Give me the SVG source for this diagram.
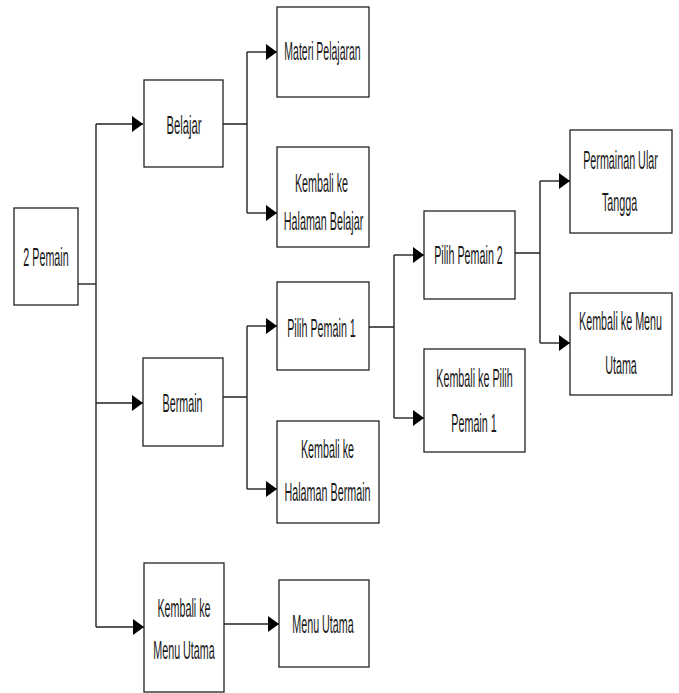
<svg xmlns="http://www.w3.org/2000/svg" width="679" height="693" viewBox="0 0 679 693">
<style>
.box{fill:#fff;stroke:#222;stroke-width:1.3}
.t{font-family:"Liberation Sans",Arial,sans-serif;font-size:25px;fill:#1a1a1a;text-anchor:middle}
.c{fill:none;stroke:#222;stroke-width:1.4}
</style>
<defs>
<marker id="arr" markerUnits="userSpaceOnUse" markerWidth="11" markerHeight="16" refX="11" refY="8" orient="auto">
<path d="M0,0 L11,8 L0,16 Z" fill="#000"/>
</marker>
</defs>
<rect width="679" height="693" fill="#fff"/>
<g id="connectors">
<path class="c" d="M78,284 H96"/>
<path class="c" d="M96,124 V627"/>
<path class="c" d="M96,124 H143" marker-end="url(#arr)"/>
<path class="c" d="M96,403 H143" marker-end="url(#arr)"/>
<path class="c" d="M96,627 H144" marker-end="url(#arr)"/>
<path class="c" d="M223,124 H247 M247,52 V213"/>
<path class="c" d="M247,52 H277" marker-end="url(#arr)"/>
<path class="c" d="M247,213 H277" marker-end="url(#arr)"/>
<path class="c" d="M223,397 H247 M247,326 V489"/>
<path class="c" d="M247,326 H277" marker-end="url(#arr)"/>
<path class="c" d="M247,489 H277" marker-end="url(#arr)"/>
<path class="c" d="M224,624 H279" marker-end="url(#arr)"/>
<path class="c" d="M369,327 H394 M394,255 V418"/>
<path class="c" d="M394,255 H424" marker-end="url(#arr)"/>
<path class="c" d="M394,418 H424" marker-end="url(#arr)"/>
<path class="c" d="M515,253 H540 M540,181 V343"/>
<path class="c" d="M540,181 H570" marker-end="url(#arr)"/>
<path class="c" d="M540,343 H570" marker-end="url(#arr)"/>
</g>
<g id="n-2pemain"><rect class="box" x="14" y="208" width="64" height="97"/><text class="t" transform="translate(46,266) scale(0.43,1)">2 Pemain</text></g>
<g id="n-belajar"><rect class="box" x="144" y="80" width="79" height="87"/><text class="t" transform="translate(184,134) scale(0.45,1)">Belajar</text></g>
<g id="n-materi"><rect class="box" x="277" y="7" width="92" height="90"/><text class="t" transform="translate(322.5,60) scale(0.42,1)">Materi Pelajaran</text></g>
<g id="n-kembali-belajar"><rect class="box" x="277" y="147" width="92" height="100"/><text class="t" transform="translate(321.5,192) scale(0.43,1)">Kembali ke</text><text class="t" transform="translate(323.5,230) scale(0.43,1)">Halaman Belajar</text></g>
<g id="n-bermain"><rect class="box" x="143" y="358" width="80" height="88"/><text class="t" transform="translate(182.5,412) scale(0.43,1)">Bermain</text></g>
<g id="n-pilih1"><rect class="box" x="277" y="282" width="92" height="88"/><text class="t" transform="translate(321.5,337) scale(0.43,1)">Pilih Pemain 1</text></g>
<g id="n-kembali-bermain"><rect class="box" x="277" y="421" width="102" height="102"/><text class="t" transform="translate(327.5,458) scale(0.43,1)">Kembali ke</text><text class="t" transform="translate(327.5,501) scale(0.43,1)">Halaman Bermain</text></g>
<g id="n-kembali-menu-left"><rect class="box" x="144" y="563" width="80" height="129"/><text class="t" transform="translate(184,617) scale(0.43,1)">Kembali ke</text><text class="t" transform="translate(184,659) scale(0.43,1)">Menu Utama</text></g>
<g id="n-menu-utama"><rect class="box" x="279" y="580" width="90" height="87"/><text class="t" transform="translate(323,633) scale(0.43,1)">Menu Utama</text></g>
<g id="n-pilih2"><rect class="box" x="424" y="211" width="91" height="88"/><text class="t" transform="translate(468.5,264) scale(0.43,1)">Pilih Pemain 2</text></g>
<g id="n-kembali-pilih1"><rect class="box" x="424" y="349" width="101" height="103"/><text class="t" transform="translate(474.5,387) scale(0.43,1)">Kembali ke Pilih</text><text class="t" transform="translate(474,432) scale(0.43,1)">Pemain 1</text></g>
<g id="n-ular-tangga"><rect class="box" x="570" y="130" width="102" height="103"/><text class="t" transform="translate(620.5,169) scale(0.43,1)">Permainan Ular</text><text class="t" transform="translate(619.5,211) scale(0.43,1)">Tangga</text></g>
<g id="n-kembali-menu-right"><rect class="box" x="570" y="293" width="102" height="102"/><text class="t" transform="translate(620.5,330) scale(0.43,1)">Kembali ke Menu</text><text class="t" transform="translate(621,374) scale(0.43,1)">Utama</text></g>
</svg>
